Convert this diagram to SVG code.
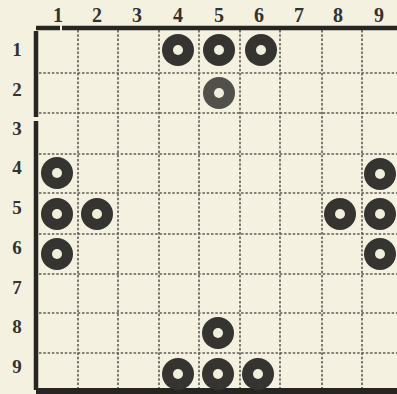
<svg xmlns="http://www.w3.org/2000/svg" width="397" height="394" viewBox="0 0 397 394">
<style>
.lbl{font-family:"Liberation Serif","DejaVu Serif",serif;font-weight:bold;font-size:19px;fill:#33322e;text-anchor:middle}
.top{font-size:20px}
.grid line{stroke:#5e5c55;stroke-width:1.6;stroke-dasharray:2.5 1.8}
.border{stroke:#262522;stroke-width:4.5;fill:none}
.stone{fill:#353430}
.hole{fill:#f1eedc}
</style>
<defs>
<g id="st"><circle class="stone" r="16"/><circle class="hole" r="5"/></g>
</defs>
<rect width="397" height="394" fill="#f4f1e1"/>
<g id="labels">
<text class="lbl top" x="58" y="22">1</text>
<text class="lbl top" x="97" y="22">2</text>
<text class="lbl top" x="137" y="22">3</text>
<text class="lbl top" x="178" y="22">4</text>
<text class="lbl top" x="219" y="22">5</text>
<text class="lbl top" x="259" y="22">6</text>
<text class="lbl top" x="299" y="22">7</text>
<text class="lbl top" x="338" y="22">8</text>
<text class="lbl top" x="379" y="22">9</text>
<text class="lbl" x="17" y="56">1</text>
<text class="lbl" x="17" y="96">2</text>
<text class="lbl" x="17" y="135">3</text>
<text class="lbl" x="17" y="174">4</text>
<text class="lbl" x="17" y="214">5</text>
<text class="lbl" x="17" y="254">6</text>
<text class="lbl" x="17" y="294">7</text>
<text class="lbl" x="17" y="333">8</text>
<text class="lbl" x="17" y="373">9</text>
</g>
<g class="grid">
<line x1="78" y1="30" x2="78" y2="388"/>
<line x1="118" y1="30" x2="118" y2="388"/>
<line x1="159" y1="30" x2="159" y2="388"/>
<line x1="199" y1="30" x2="199" y2="388"/>
<line x1="240" y1="30" x2="240" y2="388"/>
<line x1="280" y1="30" x2="280" y2="388"/>
<line x1="322" y1="30" x2="322" y2="388"/>
<line x1="362" y1="30" x2="362" y2="388"/>
<line x1="39" y1="73" x2="397" y2="73"/>
<line x1="39" y1="113" x2="397" y2="113"/>
<line x1="39" y1="154" x2="397" y2="154"/>
<line x1="39" y1="193" x2="397" y2="193"/>
<line x1="39" y1="234" x2="397" y2="234"/>
<line x1="39" y1="274" x2="397" y2="274"/>
<line x1="39" y1="313" x2="397" y2="313"/>
<line x1="39" y1="353" x2="397" y2="353"/>
</g>
<g id="frame">
<line class="border" x1="36" y1="28" x2="60" y2="28"/>
<line class="border" x1="62" y1="28" x2="397" y2="28"/>
<line class="border" x1="36" y1="31" x2="36" y2="117"/>
<line class="border" x1="36" y1="121" x2="36" y2="390"/>
<line class="border" x1="36" y1="391" x2="397" y2="391" style="stroke-width:6"/>
</g>
<g id="stones">
<use href="#st" x="178" y="50"/>
<use href="#st" x="219" y="50"/>
<use href="#st" x="261" y="50"/>
<use href="#st" x="219" y="93" style="opacity:0.85"/>
<use href="#st" x="57" y="173"/>
<use href="#st" x="380" y="174"/>
<use href="#st" x="57" y="214"/>
<use href="#st" x="97" y="214"/>
<use href="#st" x="340" y="214"/>
<use href="#st" x="380" y="214"/>
<use href="#st" x="57" y="254"/>
<use href="#st" x="380" y="254"/>
<use href="#st" x="218" y="333"/>
<use href="#st" x="178" y="374"/>
<use href="#st" x="218" y="374"/>
<use href="#st" x="258" y="374"/>
</g>
</svg>
